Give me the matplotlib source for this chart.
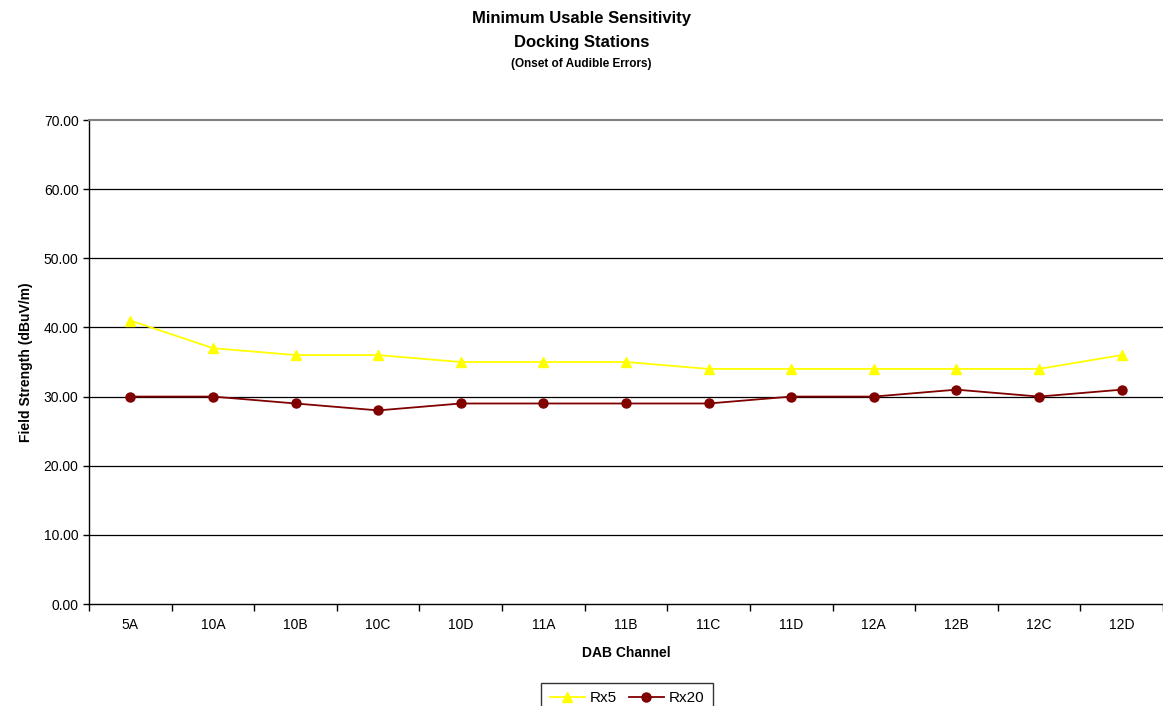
import numpy as np
import matplotlib.pyplot as plt

plt.rcParams['font.family'] = ['Liberation Sans', 'DejaVu Sans']

channels = ['5A', '10A', '10B', '10C', '10D', '11A', '11B', '11C', '11D', '12A', '12B', '12C', '12D']
rx5 = [41, 37, 36, 36, 35, 35, 35, 34, 34, 34, 34, 34, 36]
rx20 = [30, 30, 29, 28, 29, 29, 29, 29, 30, 30, 31, 30, 31]

fig = plt.figure(figsize=(11.63, 7.06), dpi=100)
ax = fig.add_axes([89 / 1163, 102 / 706, 1 - 89 / 1163, 484 / 706])

x = np.arange(len(channels))
ax.plot(x, rx5, color='#FFFF00', marker='^', markersize=7, linewidth=1.3, label='Rx5')
ax.plot(x, rx20, color='#800000', marker='o', markersize=6.5, linewidth=1.3, label='Rx20')

# horizontal gridlines
ax.set_ylim(0, 70)
ax.set_yticks(np.arange(0, 71, 10))
ax.set_yticklabels(['%.2f' % v for v in np.arange(0, 71, 10)])
for v in range(10, 70, 10):
    ax.axhline(v, color='black', linewidth=0.9, zorder=0)

ax.set_xlim(-0.5, len(channels) - 0.5)
ax.set_xticks(x)
ax.set_xticklabels(channels)
ax.tick_params(axis='x', which='major', length=0, pad=10, labelsize=10)
ax.set_xticks(np.arange(-0.5, len(channels), 1), minor=True)
ax.tick_params(axis='x', which='minor', length=5, direction='out', width=1)
ax.tick_params(axis='y', length=4, direction='out', width=1, labelsize=10)

for s in ['left', 'bottom']:
    ax.spines[s].set_color('black')
    ax.spines[s].set_linewidth(1)
ax.spines['top'].set_color('#808080')
ax.spines['top'].set_linewidth(1.5)
ax.spines['right'].set_visible(False)

ax.set_xlabel('DAB Channel', fontsize=10, fontweight='bold', labelpad=10)
ax.set_ylabel('Field Strength (dBuV/m)', fontsize=10, fontweight='bold', labelpad=8)

fig.text(0.5, 1 - 18 / 706, 'Minimum Usable Sensitivity', ha='center', va='center',
         fontsize=12, fontweight='bold')
fig.text(0.5, 1 - 42 / 706, 'Docking Stations', ha='center', va='center',
         fontsize=12, fontweight='bold')
fig.text(0.5, 1 - 64 / 706, '(Onset of Audible Errors)', ha='center', va='center',
         fontsize=8.5, fontweight='bold')

leg = fig.legend(loc='upper center', bbox_to_anchor=(627 / 1163, 1 - 683 / 706), ncol=2,
                 fontsize=11, frameon=True, fancybox=False, edgecolor='black',
                 handlelength=2.3, handletextpad=0.3, columnspacing=0.8,
                 borderpad=0.55, borderaxespad=0)
leg.get_frame().set_linewidth(1)

fig.savefig('out.png', dpi=100)
